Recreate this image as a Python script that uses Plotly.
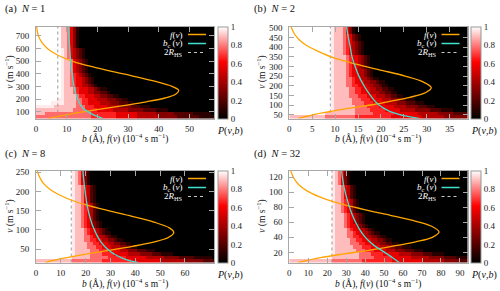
import numpy as np
import plotly.graph_objects as go

W, H = 500, 291
SERIF = "Liberation Serif"

# ---------------- data ----------------
PANEL_LABELS = ["(a)", "(b)", "(c)", "(d)"]
N_VALUES = [1, 2, 8, 32]
TWO_R_HS = [7.1, 8.95, 14.2, 22.5]

# Maxwell-type distribution f(v) (v in m/s, f in 1e-4 s/m)
FV_V_A = [771, 700, 650, 600, 550, 500, 450, 400, 350, 300, 270, 240, 210, 180, 150, 120, 90, 65, 48]
FV_F_A = [0.2, 0.8, 1.9, 3.8, 7.0, 12.0, 19.5, 28.5, 37.5, 44.5, 46.5, 45.5, 42.0, 36.0, 28.5, 20.5, 12.8, 7.3, 4.2]
FV_V_B = [505, 470, 440, 410, 380, 346, 312, 280, 250, 220, 190, 165, 140, 120, 104, 85, 65, 50, 30]
FV_F_B = [0.4, 1.1, 2.1, 3.7, 6.2, 9.6, 14.6, 20.2, 25.3, 29.2, 31.0, 29.8, 26.3, 22.2, 18.7, 13.6, 8.6, 5.3, 2.0]
FV_V_C = [253, 235, 220, 205, 190, 175, 164, 150, 135, 120, 105, 93, 80, 68, 57, 45, 35, 25, 15]
FV_F_C = [0.5, 1.6, 3.1, 5.7, 9.7, 15.2, 20.5, 29.1, 38.7, 47.5, 53.7, 55.5, 53.3, 47.3, 38.9, 28.0, 18.5, 10.1, 3.8]
FV_V_D = [128, 118, 110, 102, 94, 87, 81, 72, 63, 55, 47, 40, 34, 28, 23, 18, 13, 6.6]
FV_F_D = [0.8, 2.5, 4.9, 9.1, 15.7, 23.5, 32.5, 48.2, 64.0, 74.8, 79.0, 75.4, 66.6, 54.0, 42.5, 29.0, 16.5, 4.8]

# critical impact parameter b_c(v) (Angstrom)
BC_V_A = [771, 700, 600, 500, 400, 300, 250, 200, 160, 130, 110, 90, 75, 62, 48]
BC_A = [10.5, 10.7, 11.0, 11.3, 11.8, 12.4, 12.9, 13.6, 14.4, 15.3, 16.4, 17.7, 18.9, 20.2, 21.8]
BC_V_B = [505, 450, 400, 350, 312, 250, 200, 150, 120, 104, 85, 70, 57, 45, 36, 30]
BC_B = [12.5, 12.9, 13.3, 13.7, 14.2, 15.2, 16.3, 17.7, 18.7, 19.4, 20.5, 21.7, 23.2, 25.0, 27.0, 28.3]
BC_V_C = [253, 220, 190, 164, 140, 120, 100, 85, 70, 58, 45, 35, 27, 20, 15]
BC_C = [18.9, 19.4, 20.0, 20.6, 21.4, 22.3, 23.5, 24.6, 26.0, 27.5, 29.7, 32.0, 34.5, 37.5, 41.0]
BC_V_D = [128, 110, 95, 81, 70, 60, 50, 42, 35, 29, 23, 18, 13, 6.6]
BC_D = [27.6, 28.6, 30.0, 31.6, 33.2, 35.0, 37.2, 39.5, 42.0, 44.8, 48.5, 51.5, 54.5, 58.0]

# P(v,b) grids: rows bottom->top, tokens "cxn" = code c repeated n times
# codes (see CODE below); missing cells are 0
B_STEP = [1.0, 0.65, 1.2, 1.6]
N_COLS = [58, 60, 60, 59]
V_RANGE = [(48, 771), (30, 505), (15, 253), (6.6, 128)]
B_RANGE = [(0, 58), (0, 38.9), (0, 71.7), (0, 94)]

P_ROWS_A = [
    "7x18 6x8 5x7 4x7 3x6 2x7 1x5",
    "8x3 7x15 6x8 5x7 4x6 3x6 2x6 1x6",
    "8x12 7x4 6x4 5x5 4x5 3x5 2x4 1x4",
    "px6 8x7 7x3 6x3 5x4 4x4 3x4 2x3 1x3",
    "9x5 px4 8x4 7x2 6x2 5x4 4x3 3x3 2x3 1x2",
    "9x7 px2 8x4 7x2 6x2 5x3 4x3 3x3 2x2 1x2",
    "9x8 p 8x4 7 6x2 5x3 4x2 3x2 2x2 1x2",
    "9x8 p 8x3 7 6 5x3 4x2 3x2 2x2 1",
    "9x8 p 8x3 7 6 5x3 4x2 3 2 1x2",
    "9x8 p 8x2 7 6 5x2 4x2 3 2 1",
    "9x8 p 8x2 7 6 5x2 4 3 2 1",
    "9x8 p 8x2 7 6 5x2 4 3 2 1",
    "9x8 p 8x2 7 6 5 4 3 2 1",
    "9x8 p 8x2 7 5 4 3 2 1",
    "9x8 p 8x2 7 5 4 3 2 1",
    "9x8 p 8x2 7 5 4 3 2 1",
    "9x8 p 8x2 7 5 4 3 2 1",
    "9x8 p 8 7 5 4 3 2 1",
    "9x8 p 8 7 5 4 3 2 1",
    "9x8 p 8 7 5 4 3 2 1",
    "9x8 8x2 7 5 3 1",
    "9x8 8x2 7 5 3 1",
    "9x8 8x2 7 5 3 1",
    "9x8 8x2 7 5 3 1",
    "9x8 8x2 7 5 3 1",
    "9x8 8x2 7 5 3 1",
]
P_ROWS_B = [
    "8x12 7x10 6x12 5x10 4x8 3x8",
    "9x12 8x10 7x6 6x7 5x8 4x7 3x5 2x5",
    "9x14 p 8x7 7x5 6x5 5x5 4x5 3x5 2x4 1x4",
    "9x14 p 8x7 7x4 6x4 5x5 4x4 3x4 2x3 1x3",
    "9x14 p 8x6 7x4 6x3 5x4 4x4 3x3 2x3 1x3",
    "9x14 p 8x6 7x3 6x3 5x4 4x3 3x3 2x2 1x3",
    "9x14 p 8x5 7x3 6x3 5x3 4x3 3x2 2x2 1x2",
    "9x14 p 8x5 7x2 6x2 5x3 4x3 3x2 2x2 1x2",
    "9x14 p 8x5 7x2 6x2 5x3 4x2 3x2 2x2 1x2",
    "9x14 p 8x4 7x2 6x2 5x3 4x2 3x2 2 1x2",
    "9x14 p 8x4 7x2 6 5x3 4x2 3x2 2 1x2",
    "9x14 p 8x4 7x2 6 5x2 4x2 3 2 1x2",
    "9x14 p 8x4 7 6 5x2 4x2 3 2 1",
    "9x14 p 8x4 7 6 5x2 4x2 3 2 1",
    "9x14 p 8x4 7 6 5x2 4 3 2 1",
    "9x14 p 8x4 7 6 5x2 4 3 2 1",
    "9x14 p 8x4 7 6 5x2 4 3 2 1",
    "9x14 p 8x4 7 6 5x2 4 3 2 1",
    "9x14 p 8x3 7 6 5 4 3 2 1",
    "9x14 p 8x3 7 6 5 4 3 2 1",
    "9x14 p 8x3 7 6 5 4 3 2 1",
    "9x14 p 8x3 7 6 5 4 3 2 1",
    "9x14 p 8x3 7 6 5 3 2 1",
    "9x14 p 8x3 7 6 5 3 2 1",
    "9x14 p 8x3 7 5 3 1",
    "9x14 p 8x3 7 5 3 1",
]
P_ROWS_C = [
    "8x12 7x10 6x10 5x10 4x8 3x6 2x4",
    "9x11 p 8x6 7x6 6x6 5x7 4x6 3x5 2x5 1x6",
    "9x12 p 8x5 7x4 6x4 5x5 4x4 3x4 2x3 1x4",
    "9x12 p 8x5 7x3 6x3 5x4 4x3 3x3 2x3 1x3",
    "9x12 p 8x4 7x3 6x2 5x3 4x3 3x2 2x2 1x2",
    "9x12 p 8x4 7x2 6x2 5x3 4x2 3x2 2x2 1x2",
    "9x12 p 8x3 7x2 6x2 5x2 4x2 3x2 2 1x2",
    "9x12 p 8x3 7x2 6 5x2 4x2 3 2 1x2",
    "9x12 p 8x3 7 6 5x2 4 3 2 1x2",
    "9x12 p 8x3 7 6 5x2 4 3 2 1",
    "9x12 p 8x2 7 6 5 4 3 2 1",
    "9x12 p 8x2 7 6 5 4 3 2 1",
    "9x12 p 8x2 7 6 5 4 2 1",
    "9x12 p 8x2 7 6 5 4 2 1",
    "9x12 p 8x2 7 6 5 4 2 1",
    "9x12 p 8x2 7 6 5 4 2 1",
    "9x12 p 8x2 7 6 5 4 2 1",
    "9x12 p 8x2 7 5 4 2 1",
    "9x12 p 8x2 7 5 4 2 1",
    "9x12 p 8x2 7 5 4 2 1",
    "9x12 p 8x2 7 5 4 2 1",
    "9x12 p 8x2 7 5 4 2 1",
    "9x12 p 8 7 5 3 1",
    "9x12 p 8 7 5 3 1",
    "9x12 p 8 7 5 3 1",
    "9x12 p 8 7 5 3 1",
]
P_ROWS_D = [
    "8x14 7x10 6x10 5x10 4x7 3x5 2x3",
    "9x13 p 8x9 7x5 6x6 5x6 4x6 3x5 2x4 1x4",
    "9x14 p 8x8 7x4 6x4 5x5 4x4 3x4 2x3 1x4",
    "9x14 p 8x7 7x3 6x3 5x4 4x3 3x3 2x3 1x3",
    "9x14 p 8x6 7x3 6x3 5x3 4x3 3x2 2x2 1x3",
    "9x14 p 8x5 7x3 6x2 5x3 4x2 3x2 2x2 1x2",
    "9x14 p 8x5 7x2 6x2 5x3 4x2 3x2 2 1x2",
    "9x14 p 8x4 7x2 6x2 5x2 4x2 3x2 2 1x2",
    "9x14 p 8x4 7x2 6 5x2 4x2 3 2 1x2",
    "9x14 p 8x4 7 6 5x2 4x2 3 2 1",
    "9x14 p 8x3 7 6 5x2 4 3 2 1",
    "9x14 p 8x3 7 6 5 4 3 2 1",
    "9x14 p 8x3 7 6 5 4 3 2 1",
    "9x14 p 8x3 7 6 5 4 3 2 1",
    "9x14 p 8x2 7 6 5 4 2 1",
    "9x14 p 8x2 7 6 5 4 2 1",
    "9x14 p 8x2 7 6 5 4 2 1",
    "9x14 p 8x2 7 6 5 4 2 1",
    "9x14 p 8x2 7 5 4 2 1",
    "9x14 p 8x2 7 5 4 2 1",
    "9x14 p 8x2 7 5 4 2 1",
    "9x14 p 8x2 7 5 4 2 1",
    "9x14 p 8 7 5 3 1",
    "9x14 p 8 7 5 3 1",
    "9x14 p 8 7 5 3 1",
    "9x14 p 8 7 5 3 1",
]

X_TICKS = [list(range(0, 51, 10)), list(range(0, 36, 5)), list(range(0, 61, 10)), list(range(0, 91, 10))]
Y_TICKS = [list(range(100, 701, 100)), list(range(50, 501, 50)), list(range(50, 251, 50)), list(range(20, 121, 20))]
CB_TICKS = [0, 0.2, 0.4, 0.6, 0.8, 1]
CB_TEXT = ["0", "0.2", "0.4", "0.6", "0.8", "1"]

FV_V = [FV_V_A, FV_V_B, FV_V_C, FV_V_D]
FV_F = [FV_F_A, FV_F_B, FV_F_C, FV_F_D]
BC_V = [BC_V_A, BC_V_B, BC_V_C, BC_V_D]
BC = [BC_A, BC_B, BC_C, BC_D]
P_ROWS = [P_ROWS_A, P_ROWS_B, P_ROWS_C, P_ROWS_D]

# ---------------- style / layout ----------------
ORANGE = "#ffa500"
CYAN = "#40e0d0"
DOTC = "#9a9a9a"
AXC = "#a8a8a8"
TXT = "#111111"
COLORSCALE = [[0.0, "#000000"], [0.62, "#ff0000"], [1.0, "#ffffff"]]

# plot boxes in pixels: x0, x1, y0(top), y1(bottom)
BOX = [(36, 214, 27, 118.5), (289.3, 467.5, 27, 118.5),
       (36, 214, 171, 262.5), (289.3, 467.5, 171, 262.5)]

CODE = {"0": 0.0, "1": 0.1, "2": 0.2, "3": 0.32, "4": 0.44, "5": 0.56,
        "6": 0.67, "7": 0.78, "8": 0.9, "p": 0.97, "9": 1.0}


def decode(row, ncols):
    vals = []
    for tok in row.split():
        if "x" in tok:
            c, n = tok.split("x")
            vals += [CODE[c]] * int(n)
        else:
            vals += [CODE[c] for c in tok]
    vals = vals[:ncols]
    return vals + [0.0] * (ncols - len(vals))


def px(x):
    return x / W


def py(y):
    return 1 - y / H


def note(x, y, text, xanchor="center", color=TXT, size=10, angle=0):
    return dict(x=px(x), y=py(y), xref="paper", yref="paper", xanchor=xanchor,
                yanchor="middle", text=text, showarrow=False, textangle=angle,
                font=dict(family=SERIF, size=size, color=color))


fig = go.Figure()
layout = {}
annotations = []
shapes = []

for i in range(4):
    sfx = "" if i == 0 else str(i + 1)
    xa, ya = "x" + sfx, "y" + sfx
    x0, x1, y0, y1 = BOX[i]
    vmin, vmax = V_RANGE[i]
    ncols = N_COLS[i]
    z = [decode(r, ncols) for r in P_ROWS[i]]
    xedges = np.arange(ncols + 1) * B_STEP[i]
    yedges = np.linspace(vmin, vmax, len(z) + 1)

    fig.add_trace(go.Heatmap(
        z=z, x=xedges, y=yedges, xaxis=xa, yaxis=ya, zmin=0, zmax=1,
        colorscale=COLORSCALE, hoverinfo="skip",
        colorbar=dict(
            x=px(x1 + 3.5), xanchor="left", y=py((y0 + y1) / 2), yanchor="middle",
            len=(y1 - y0) / H, lenmode="fraction", thickness=10, thicknessmode="pixels",
            xpad=0, ypad=0, outlinewidth=1, outlinecolor="#999999",
            tickvals=CB_TICKS, ticktext=CB_TEXT, ticks="", ticklen=0,
            tickfont=dict(family=SERIF, size=9, color="#222222")),
    ))
    fig.add_trace(go.Scatter(
        x=[TWO_R_HS[i], TWO_R_HS[i]], y=[vmin, vmax], mode="lines", xaxis=xa, yaxis=ya,
        line=dict(color=DOTC, width=1, dash="dot"), hoverinfo="skip"))
    fig.add_trace(go.Scatter(
        x=FV_F[i], y=FV_V[i], mode="lines", xaxis=xa, yaxis=ya,
        line=dict(color=ORANGE, width=1.3, shape="spline"), hoverinfo="skip"))
    fig.add_trace(go.Scatter(
        x=BC[i], y=BC_V[i], mode="lines", xaxis=xa, yaxis=ya,
        line=dict(color=CYAN, width=1.3, shape="spline"), hoverinfo="skip"))

    common = dict(showgrid=False, zeroline=False, showline=True, linecolor=AXC, linewidth=1,
                  mirror="ticks", ticks="inside", ticklen=5, tickcolor=AXC, tickwidth=1,
                  automargin=False,
                  tickfont=dict(family=SERIF, size=9, color="#222222"))
    layout["xaxis" + sfx] = dict(domain=[px(x0), px(x1)], range=list(B_RANGE[i]), anchor=ya,
                                 tickvals=X_TICKS[i], ticklabelstandoff=2, **common)
    layout["yaxis" + sfx] = dict(domain=[py(y1), py(y0)], range=[vmin, vmax], anchor=xa,
                                 tickvals=Y_TICKS[i], ticklabelstandoff=4, **common)

    left = i % 2 == 0
    top = i < 2
    annotations.append(note(3 if left else 252, 9 if top else 154,
                            f"{PANEL_LABELS[i]}  <i>N</i> = {N_VALUES[i]}", xanchor="left", size=10.5))
    annotations.append(note(125 if left else 378, 138 if top else 283,
                            "<i>b</i> (Å), <i>f</i>(<i>v</i>) (10<sup>−4</sup> s m<sup>−1</sup>)",
                            size=9.5))
    annotations.append(note(10 if left else 262, (y0 + y1) / 2,
                            "<i>v</i> (m s<sup>−1</sup>)", angle=-90, size=9.5))
    annotations.append(note(x1 + 16, y1 + 12, "<i>P</i>(<i>v</i>,<i>b</i>)"))
    leg = [("<i>f</i>(<i>v</i>)", ORANGE, "solid"),
           ("<i>b</i><sub>c</sub> (<i>v</i>)", CYAN, "solid"),
           ("2<i>R</i><sub>HS</sub>", "#c8c8c8", "dot")]
    for k, (txt, col, dash) in enumerate(leg):
        yy = y0 + 7.5 + 9 * k
        annotations.append(note(x1 - 29, yy, txt, xanchor="right", color="#ffffff", size=9))
        shapes.append(dict(type="line", xref="paper", yref="paper",
                           x0=px(x1 - 26), x1=px(x1 - 8), y0=py(yy), y1=py(yy),
                           line=dict(color=col, width=1.5 if dash == "solid" else 1, dash=dash)))

fig.update_layout(
    width=W, height=H, margin=dict(l=0, r=0, t=0, b=0, autoexpand=False),
    paper_bgcolor="white", plot_bgcolor="white", showlegend=False,
    font=dict(family=SERIF),
    annotations=annotations, shapes=shapes, **layout)

fig.write_html("out.html", config={"displayModeBar": False},
               post_script="document.body.style.margin='0px';"
                           "document.body.style.overflow='hidden';")
